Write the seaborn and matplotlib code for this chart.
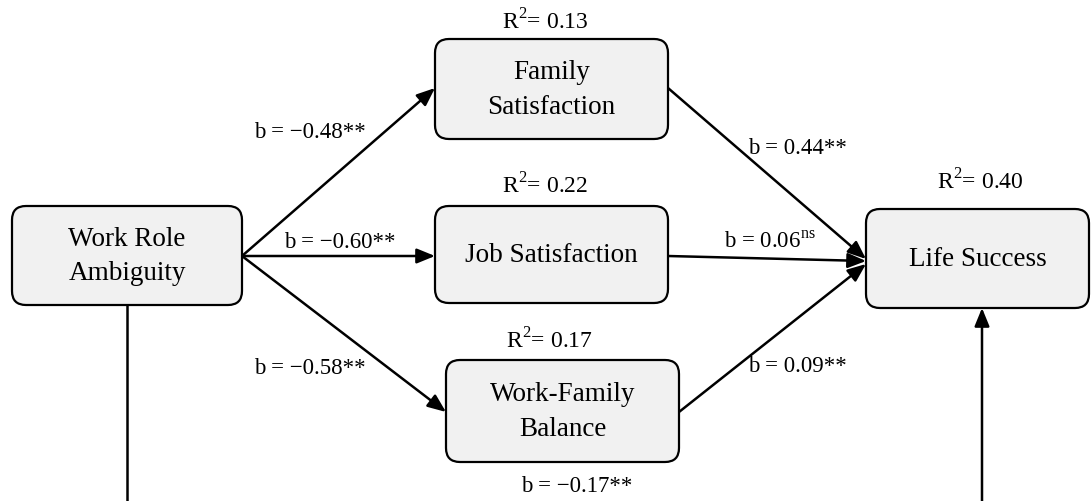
import matplotlib
matplotlib.use("Agg")
import matplotlib.pyplot as plt
from matplotlib.patches import FancyBboxPatch
import seaborn as sns

# variables of the path model
cajas = ["Work Role\nAmbiguity", "Family\nSatisfaction", "Job Satisfaction",
         "Work-Family\nBalance", "Life Success"]
r2 = [None, 0.13, 0.22, 0.17, 0.40]
# path coefficients (desde, hasta, b, significancia)
origen = [0, 0, 0, 1, 2, 3, 0]
destino = [1, 2, 3, 4, 4, 4, 4]
coef = [-0.48, -0.60, -0.58, 0.44, 0.06, 0.09, -0.17]
signif = ["**", "**", "**", "**", "ns", "**", "**"]

sns.set_style("white")
plt.rcParams["font.family"] = ["Liberation Serif", "DejaVu Serif"]
plt.rcParams["mathtext.fontset"] = "custom"
plt.rcParams["mathtext.rm"] = "Liberation Serif"
plt.rcParams["text.color"] = "black"

fig = plt.figure(figsize=(10.91, 5.01), dpi=100)
ax = fig.add_axes([0, 0, 1, 1])
ax.set_xlim(0, 1091)
ax.set_ylim(501, 0)
ax.axis("off")

# box geometry in pixels: x0, y0, x1, y1
geom = [(12, 206, 242, 305), (435, 39, 668, 139), (435, 206, 668, 303),
        (446, 360, 679, 462), (866, 209, 1089, 308)]
for (x0, y0, x1, y1), txt in zip(geom, cajas):
    ax.add_patch(FancyBboxPatch((x0 + 14, y0 + 14), x1 - x0 - 28, y1 - y0 - 28,
                                boxstyle="round,pad=14", fc="#f1f1f1", ec="black",
                                lw=1.6, zorder=2))
    ax.text((x0 + x1) / 2, (y0 + y1) / 2 + 1, txt, ha="center", va="center",
            fontsize=19.5, linespacing=1.5, zorder=3)

r2_pos = [None, (545, 22), (545, 186), (549, 341), (980, 182)]
for v, p in zip(r2, r2_pos):
    if v is None:
        continue
    ax.text(p[0], p[1], f"R$^2$= {v:.2f}", ha="center", va="center", fontsize=17)

flecha = dict(arrowstyle="-|>,head_length=1.1,head_width=0.45", color="black",
              lw=1.8, shrinkA=0, shrinkB=0)
puntos = {(0, 1): ((242, 256), (435, 88)), (0, 2): ((242, 256), (435, 256)),
          (0, 3): ((242, 256), (446, 412)), (1, 4): ((668, 88), (866, 259)),
          (2, 4): ((668, 256), (866, 261)), (3, 4): ((679, 412), (866, 264))}
etiq = [(310, 132), (340, 242), (310, 368), (797, 149), (770, 242), (797, 366), (577, 486)]

for o, d, b, s, (lx, ly) in zip(origen, destino, coef, signif, etiq):
    num = f"{b:.2f}".replace("-", "\u2212")
    if s == "ns":
        lab = f"b = {num}$^{{\\mathrm{{ns}}}}$"
    else:
        lab = f"b = {num}{s}"
    ax.text(lx, ly, lab, ha="center", va="center", fontsize=16.5, zorder=4)
    if (o, d) in puntos:
        a, z = puntos[(o, d)]
        ax.annotate("", xy=z, xytext=a, arrowprops=flecha, zorder=1)

# direct effect: drawn as a bracket that leaves the bottom of the picture
ax.plot([127, 127], [305, 501], color="black", lw=1.8, zorder=1)
ax.annotate("", xy=(982, 308), xytext=(982, 501), arrowprops=flecha, zorder=1)

plt.savefig("out.png", dpi=100)
